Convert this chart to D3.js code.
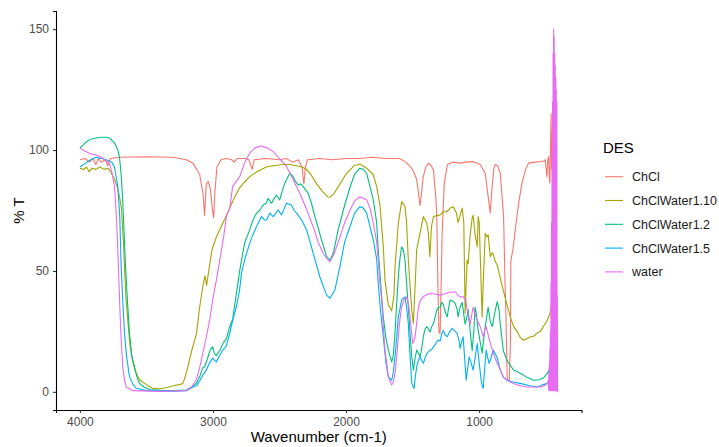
<!DOCTYPE html>
<html>
<head>
<meta charset="utf-8">
<script src="https://cdn.jsdelivr.net/npm/d3@7"></script>
<style>
  body { margin: 0; background: #fff; }
  text { font-family: "Liberation Sans", Arial, sans-serif; }
</style>
</head>
<body>
<div id="chart"></div>
<script>
// FTIR spectra, [wavenumber, %T]
var chcl = [[4000,96],[3960,96.5],[3930,95],[3900,96.5],[3880,94],[3860,96.5],[3840,95],[3810,96],[3790,93.5],[3770,96.5],[3700,97],[3500,97.2],[3300,97],[3200,96],[3150,94.5],[3100,90],[3075,82],[3063,73],[3050,86],[3035,87],[3020,84],[3005,76],[2995,72],[2985,83],[2970,93],[2940,96],[2900,96.5],[2860,96],[2840,95],[2820,96.5],[2760,96.5],[2730,96],[2705,92],[2690,96],[2600,96.5],[2500,96],[2450,96.5],[2400,95],[2360,96],[2330,93],[2317,86],[2305,93],[2290,96],[2200,96.5],[2100,96],[2000,96.5],[1900,96.5],[1800,97],[1700,96.5],[1600,96.5],[1550,95],[1500,92],[1470,88],[1450,80],[1444,77],[1435,81],[1420,89],[1400,93],[1381,94.6],[1360,93.5],[1343,91.8],[1325,80],[1318,72.5],[1310,45],[1302,25],[1293,24],[1285,45],[1278,65],[1262,86],[1238,94],[1200,95],[1143,94.6],[1100,95],[1042,95.2],[992,94],[954,90.4],[935,82],[916,74],[904,83.5],[890,92],[879,94],[860,93.5],[841,90.4],[816,72.5],[805,45],[798,31],[790,8],[786,4.8],[773,4.5],[765,20],[761,54.5],[746,58.7],[730,66],[716,72.5],[700,79],[678,86.3],[650,92],[628,94.6],[580,95],[540,95.2],[515,95.5],[502,96],[495,91],[490,89],[484,96],[477,97.3],[472,88],[468,86.3],[462,105],[459,115],[455,92],[452,95],[448,110],[444,88],[440,98],[430,96],[420,97]];

var chclWater110 = [[4000,92.5],[3970,92],[3950,93],[3930,91],[3910,92.5],[3880,92],[3850,93],[3820,92],[3790,92.5],[3770,91],[3740,88],[3715,84],[3700,80],[3688,76],[3675,64],[3665,52],[3655,40],[3642,31],[3625,20],[3605,13],[3580,8],[3552,5],[3500,3],[3454,1.5],[3400,1.3],[3350,1.7],[3300,2.5],[3251,3],[3226,3.5],[3210,6],[3190,10],[3160,17],[3124,24],[3100,35],[3075,44],[3060,48],[3048,44],[3032,50],[3010,58],[3000,60],[2975,64],[2949,67],[2898,73],[2850,79],[2799,84.5],[2770,86.3],[2724,89],[2671,91],[2598,93],[2550,93.5],[2476,94],[2420,94],[2372,93.5],[2330,93],[2296,92],[2260,89.5],[2221,86],[2180,83],[2137,80.6],[2121,80.5],[2090,82],[2046,86],[1994,90.5],[1940,93.5],[1896,94.2],[1845,92.5],[1797,90],[1770,85],[1745,77],[1720,60],[1707,46],[1682,36],[1657,33.5],[1640,40],[1632,51.8],[1607,69.7],[1582,78.7],[1557,76.6],[1545,70],[1532,54.5],[1506,33.8],[1494,28.3],[1480,45],[1469,58.7],[1444,65.6],[1419,72.5],[1393,69.7],[1381,65.6],[1370,55.9],[1358,68.3],[1343,72.5],[1293,73.2],[1270,74.5],[1240,74.5],[1218,76],[1195,76.6],[1170,74],[1158,70],[1143,73],[1127,76],[1115,70],[1105,32.5],[1097,45],[1090,54.5],[1082,53],[1067,65],[1052,72],[1045,73],[1030,65],[1014,60],[1007,72.5],[999,70],[985,45],[977,31],[969,45],[954,65.6],[940,64],[932,65],[916,56],[901,57.5],[894,57],[879,54],[864,52.5],[841,47],[818,42],[790,36],[766,31],[740,27],[713,24.8],[690,22.5],[668,21.4],[640,22],[615,22.8],[590,23],[563,24.3],[540,25],[517,27],[495,29],[480,30.5],[465,33],[450,39],[440,42]];

var chclWater12 = [[4000,100.8],[3960,103],[3920,104.5],[3878,105],[3840,105.3],[3800,105.3],[3778,105],[3740,103],[3715,100],[3703,97.3],[3690,90],[3678,79],[3667,65],[3657,51.8],[3642,37],[3627,24],[3610,15],[3590,10.4],[3570,6],[3552,3.5],[3520,2],[3477,1],[3400,0.6],[3300,0.5],[3200,0.8],[3160,2],[3125,3.5],[3100,6.2],[3077,10],[3063,10.4],[3040,14],[3020,17.5],[3002,18.6],[2990,16],[2975,15],[2950,17],[2925,20],[2899,22],[2874,27],[2852,30],[2824,40.7],[2799,50],[2786,54.5],[2760,62],[2724,67],[2700,71],[2673,73.9],[2650,75],[2623,77.3],[2600,78],[2586,80],[2560,78],[2540,80],[2523,81.4],[2498,79.4],[2480,83],[2460,86.3],[2440,88.5],[2422,90.4],[2397,89],[2380,87],[2360,85.6],[2340,86],[2322,84.9],[2285,82.2],[2260,78],[2234,72.5],[2210,68],[2184,62.8],[2146,55.9],[2121,54.5],[2096,57.3],[2059,67],[2021,75],[1990,81],[1971,84.5],[1935,90],[1896,92.5],[1870,92],[1845,90.4],[1795,79.4],[1770,70],[1758,58.7],[1740,45],[1720,31],[1700,22],[1682,17.3],[1657,12.4],[1645,15],[1632,24.2],[1620,36],[1607,47.6],[1595,55],[1582,60],[1570,59],[1557,54.5],[1545,45],[1532,35],[1519,24],[1506,14.5],[1494,9],[1481,14],[1469,17.3],[1456,16],[1444,14.5],[1431,18],[1419,22.8],[1406,26],[1393,27],[1381,26],[1368,24.8],[1356,27],[1343,28.3],[1330,31],[1318,33.8],[1305,35],[1293,35],[1280,37],[1268,36],[1255,33],[1240,31],[1228,35],[1218,38],[1195,37.5],[1180,36.6],[1165,34],[1158,31],[1143,35],[1127,37],[1115,32],[1105,28],[1095,30],[1082,34],[1067,25],[1052,17],[1040,25],[1030,35],[1020,32],[1007,25.5],[990,20],[977,16],[965,22],[954,27],[940,32],[932,35],[916,29],[901,27],[885,32],[864,37.3],[850,34],[841,28],[818,17],[790,13],[766,11],[740,9],[690,7.7],[640,6],[592,4.8],[550,5],[517,5.7],[480,8.3],[457,11.8],[445,14]];

var chclWater15 = [[4000,93],[3960,94.5],[3920,96],[3880,97],[3840,96.5],[3800,96],[3760,95],[3740,93],[3715,85],[3700,72],[3690,52],[3678,38],[3665,24.3],[3650,15],[3627,6.2],[3600,3],[3577,1.5],[3500,0.5],[3300,0.3],[3200,0.5],[3151,2],[3125,2.5],[3100,4.5],[3075,7],[3050,9],[3025,12],[3002,14],[2990,13],[2975,12.4],[2950,15],[2925,17.3],[2899,19],[2874,24.2],[2850,30],[2824,35.2],[2800,42],[2786,49],[2760,55],[2724,61.4],[2700,65],[2673,68.3],[2636,72.5],[2610,71],[2598,71.1],[2573,73.9],[2548,72.5],[2510,75.2],[2485,73.2],[2447,78],[2410,77.3],[2390,75],[2372,73.9],[2334,71.1],[2297,67],[2270,62],[2247,57.3],[2197,47.6],[2146,40],[2121,38.7],[2084,42.1],[2046,51.8],[2010,62],[1971,68.3],[1935,74],[1896,76.6],[1870,76],[1845,73.9],[1795,62.8],[1770,55],[1758,44.9],[1740,33],[1720,22.8],[1700,12],[1682,6.2],[1657,4.8],[1645,8],[1632,14.5],[1620,22],[1607,31],[1582,38],[1557,39.3],[1545,35],[1532,28.3],[1519,15],[1506,3.5],[1489,1.4],[1480,6],[1469,10.4],[1456,13],[1444,14.5],[1431,13],[1419,11.8],[1406,14],[1393,15.9],[1381,16.5],[1368,17.3],[1356,17.5],[1343,18.6],[1330,19.5],[1318,20.7],[1306,21.5],[1293,21],[1280,24],[1270,25.5],[1255,23.5],[1240,22.8],[1220,25],[1203,26.3],[1180,25],[1165,24.2],[1150,21],[1143,18],[1130,21],[1120,22.8],[1110,15],[1097,4.8],[1085,10],[1075,14.5],[1060,12],[1045,9],[1030,14],[1014,20],[1007,16],[999,11.8],[985,5],[975,2],[969,1.5],[960,8],[947,17.3],[935,14],[924,11.8],[910,14],[894,17.3],[880,16],[864,14],[841,9],[818,6],[788,4.8],[740,4],[690,3.5],[620,2.5],[563,2],[517,3],[487,3.5],[465,5.6],[450,6]];

var water = [[4000,100.8],[3960,99.5],[3920,98.5],[3880,98],[3853,97.3],[3810,96],[3778,94.6],[3760,91],[3740,85],[3725,72],[3715,58.7],[3697,31],[3688,20],[3678,10.4],[3665,5],[3652,2],[3600,0.5],[3400,0.2],[3200,0.5],[3160,2],[3125,5],[3100,10],[3060,20],[3025,29.7],[3002,38],[2975,46],[2949,54.5],[2920,64],[2899,72.5],[2874,76],[2852,85],[2799,89],[2760,95],[2724,98.7],[2680,101],[2636,101.7],[2590,100.8],[2548,99.4],[2500,96.5],[2447,93.2],[2400,88],[2347,82],[2300,76],[2247,68.3],[2210,62],[2172,57.3],[2134,54.5],[2121,53.8],[2090,57],[2046,64],[2010,70],[1971,75],[1935,79],[1896,80.7],[1845,79.4],[1820,76],[1795,69.8],[1770,62],[1758,54.5],[1745,45],[1732,38],[1720,27],[1707,17.3],[1682,6.2],[1657,2.8],[1645,4],[1632,7.6],[1620,14],[1607,22.8],[1595,30],[1582,35],[1565,38],[1544,39.3],[1530,36],[1519,31],[1499,20],[1490,21],[1481,22.8],[1470,28],[1456,35],[1440,38],[1419,39.3],[1400,40],[1368,40.7],[1330,40.5],[1293,40],[1260,40.5],[1240,41],[1210,41.2],[1180,41.4],[1160,40],[1143,39.3],[1120,39.3],[1100,38],[1090,34],[1075,30],[1067,28],[1055,32],[1045,35],[1030,32],[1014,29.7],[1000,28],[992,27],[980,25],[969,22.8],[955,26],[947,27],[925,22],[901,17.3],[880,14],[864,11.8],[840,9],[818,6.2],[780,4.5],[743,3.5],[690,2.5],[638,2],[580,2],[540,2],[510,2.5],[487,3.5],[480,5],[478,1],[476,8],[474,0.5],[472,12],[470,0.5],[468,18],[466,0.5],[464,25],[462,0.5],[460,45],[458,0.5],[456,70],[454,0.5],[452,100],[450,0.5],[448,120],[446,0.5],[444,140],[442,0.5],[440,150],[438,0.5],[436,147],[434,0.5],[432,140],[430,0.5],[428,135],[426,0.5],[424,130],[422,0.5],[420,125],[418,0.5],[416,120],[414,0],[412,40],[410,0]];

var seriesNames = ["ChCl", "ChClWater1.10", "ChClWater1.2", "ChClWater1.5", "water"];
var seriesData = [chcl, chclWater110, chclWater12, chclWater15, water];
var seriesColors = ["#F8766D", "#A3A500", "#00BF7D", "#00B0F6", "#E76BF3"];
var xTicks = [4000, 3000, 2000, 1000];
var yTicks = [0, 50, 100, 150];

(function(){
    var width = 719;
    var height = 447;
    var margin = {left: 56, right: 137.5, top: 11, bottom: 37};

    var svg = d3.select("#chart")
        .append("svg")
        .attr("width", width)
        .attr("height", height)

    // ggplot style 5% expansion of the data range
    var allPts = d3.merge(seriesData);
    var xExt = d3.extent(allPts, function(d){ return d[0] });
    var yExt = d3.extent(allPts, function(d){ return d[1] });
    var yLo = Math.min(0, yExt[0]);
    var xPad = (xExt[1] - xExt[0]) * 0.05;
    var yPad = (yExt[1] - yLo) * 0.05;

    var x = d3.scaleLinear()
        .domain([xExt[1] + xPad, xExt[0] - xPad])
        .range([margin.left, width - margin.right])
    var y = d3.scaleLinear()
        .domain([yLo - yPad, yExt[1] + yPad])
        .range([height - margin.bottom, margin.top])

    var line = d3.line()
        .x(function(d){ return x(d[0]) })
        .y(function(d){ return y(d[1]) })

    svg.selectAll(".spectrum")
        .data(seriesData)
        .enter().append("path")
        .attr("class", "spectrum")
        .attr("d", line)
        .attr("fill", "none")
        .attr("stroke", function(d, i){ return seriesColors[i] })
        .attr("stroke-width", 1.1)
        .attr("stroke-linejoin", "round")

    // axes
    var xAxis = svg.append("g")
        .attr("transform", "translate(0," + (height - margin.bottom) + ")")
        .call(d3.axisBottom(x).tickValues(xTicks).tickSize(3).tickPadding(4).tickFormat(d3.format("d")))
    var yAxis = svg.append("g")
        .attr("transform", "translate(" + margin.left + ",0)")
        .call(d3.axisLeft(y).tickValues(yTicks).tickSize(3).tickPadding(4))

    ;[xAxis, yAxis].forEach(function(g){
        g.select(".domain").attr("stroke", "#000").attr("stroke-width", 1.1)
        g.selectAll(".tick line").attr("stroke", "#333").attr("stroke-width", 1.1)
        g.selectAll(".tick text")
            .attr("fill", "#4D4D4D")
            .style("font-size", "12px")
            .style("font-family", "'Liberation Sans', Arial, sans-serif")
    })

    svg.append("text")
        .attr("x", (margin.left + width - margin.right) / 2)
        .attr("y", 442)
        .attr("text-anchor", "middle")
        .style("font-size", "15px")
        .text("Wavenumber (cm-1)")

    svg.append("text")
        .attr("transform", "translate(24," + ((margin.top + height - margin.bottom) / 2) + ") rotate(-90)")
        .attr("text-anchor", "middle")
        .style("font-size", "15px")
        .text("% T")

    // legend
    var legend = svg.append("g")
        .attr("transform", "translate(603,0)")
    legend.append("text")
        .attr("x", 0)
        .attr("y", 153)
        .style("font-size", "15px")
        .text("DES")
    var items = legend.selectAll(".item")
        .data(seriesNames)
        .enter().append("g")
        .attr("class", "item")
        .attr("transform", function(d, i){ return "translate(0," + (176.7 + i * 23.8) + ")" })
    items.append("line")
        .attr("x1", 2)
        .attr("x2", 20)
        .attr("stroke", function(d, i){ return seriesColors[i] })
        .attr("stroke-width", 1.1)
    items.append("text")
        .attr("x", 29)
        .attr("y", 4.5)
        .style("font-size", "12.5px")
        .attr("fill", "#1a1a1a")
        .text(function(d){ return d })
})();
</script>
</body>
</html>
